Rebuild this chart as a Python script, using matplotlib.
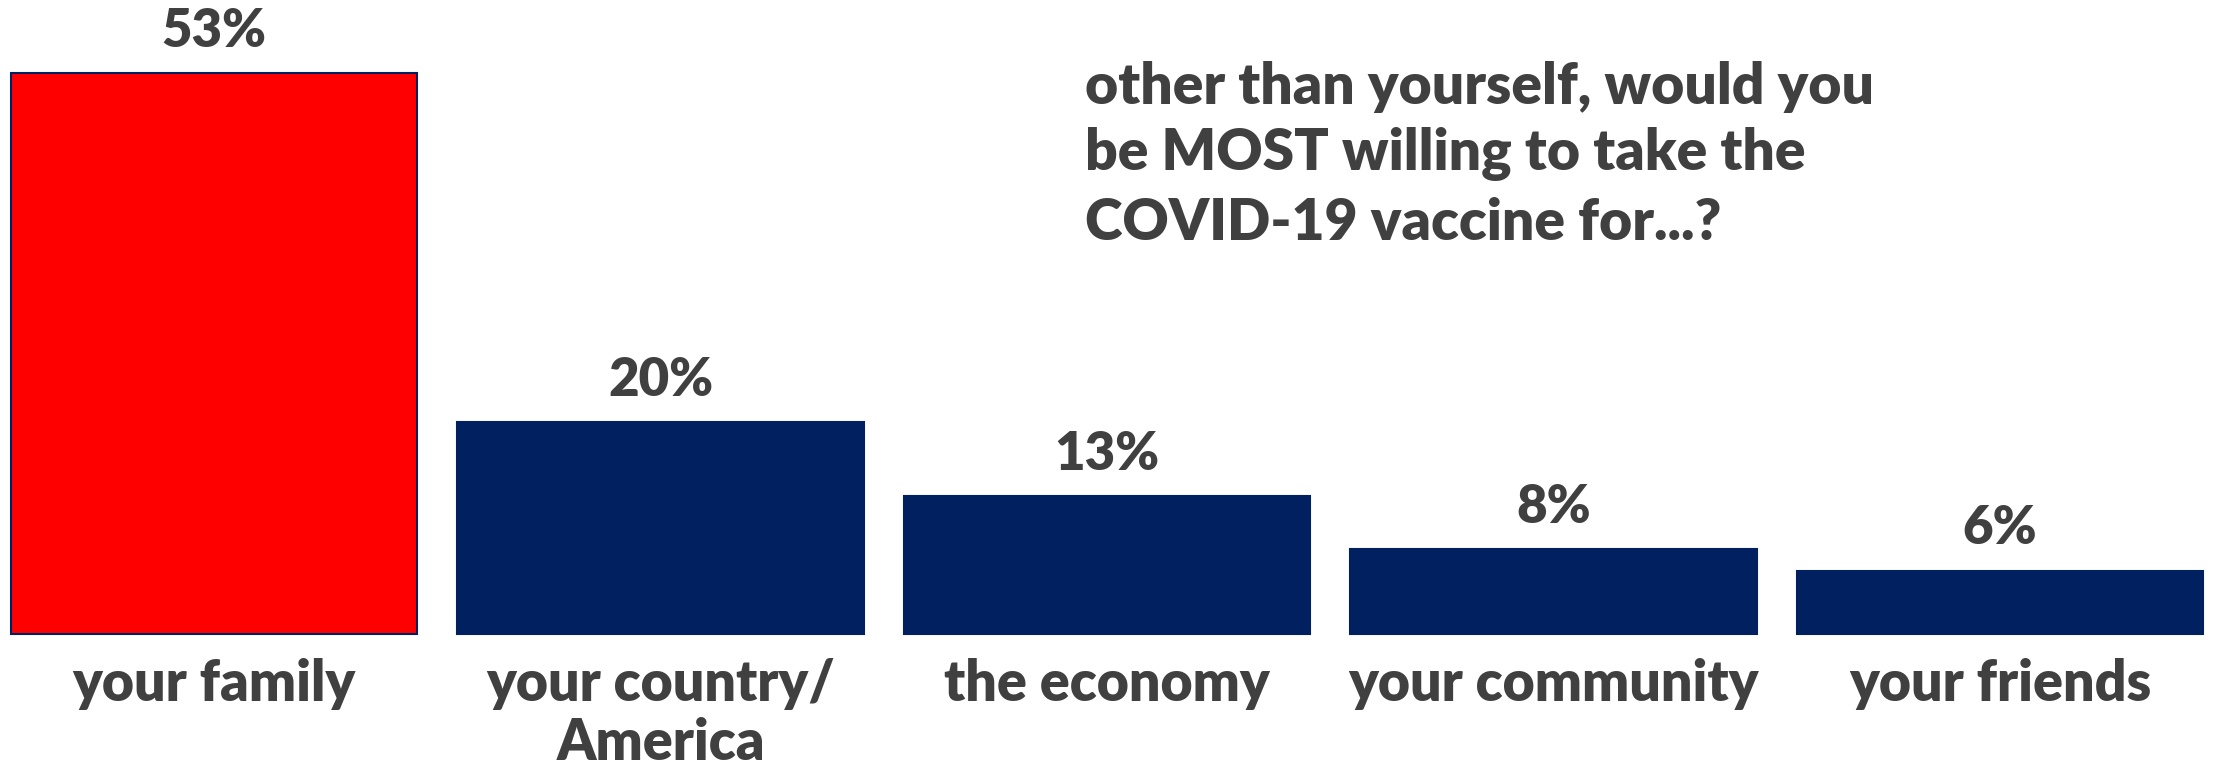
import matplotlib.pyplot as plt

categories = ["your family", "your country/\nAmerica", "the economy", "your community", "your friends"]
values = [53, 20, 13, 8, 6]
bar_colors = ["#FF0000", "#002060", "#002060", "#002060", "#002060"]
title_lines = ["other than yourself, would you",
               "be MOST willing to take the",
               "COVID-19 vaccine for...?"]

txt = "#404040"
plt.rcParams['font.family'] = ['Lato', 'DejaVu Sans']

W, H = 2213, 767
fig = plt.figure(figsize=(W / 100, H / 100), dpi=100)
ax = fig.add_axes([0, 0, 1, 1])

x = list(range(len(values)))
ax.bar(x, values, width=0.91, color=bar_colors, edgecolor="#002060", linewidth=1.5)

for xi, v in zip(x, values):
    ax.annotate(f"{v}%", (xi, v), xytext=(0, 19), textcoords="offset points",
                ha="center", va="baseline", fontsize=38, fontweight="heavy", color=txt)

# category labels, one line at a time so the first line sits on a fixed baseline
for xi, lab in zip(x, categories):
    for k, line in enumerate(lab.split("\n")):
        ax.annotate(line, (xi, 0), xytext=(0, -48 - 43 * k), textcoords="offset points",
                    ha="center", va="baseline", fontsize=40, fontweight="heavy", color=txt)

ax.set_xlim(-0.4796, 4.4774)
ax.set_ylim(-12.565, 59.9)
ax.axis("off")

baselines = [104, 170, 240]
for line, yb in zip(title_lines, baselines):
    fig.text(1085 / W, 1 - yb / H, line, ha="left", va="baseline", fontsize=41,
             fontweight="heavy", color=txt)

fig.savefig("out.png", dpi=100)
